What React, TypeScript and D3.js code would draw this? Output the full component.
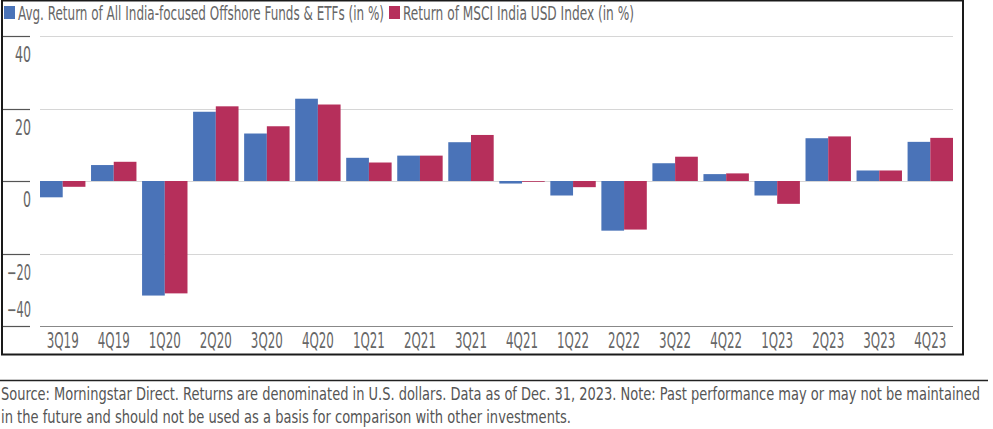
import React from "react";
import * as d3 from "d3";

const categories = ["3Q19","4Q19","1Q20","2Q20","3Q20","4Q20","1Q21","2Q21","3Q21","4Q21","1Q22","2Q22","3Q22","4Q22","1Q23","2Q23","3Q23","4Q23"];
const fundReturns = [-4.5, 4.4, -31.6, 19.1, 13.1, 22.7, 6.4, 7.0, 10.7, -0.7, -4.0, -13.7, 4.9, 1.9, -4.0, 11.8, 2.9, 10.8];
const msciReturns = [-1.6, 5.3, -31.0, 20.6, 15.1, 21.1, 5.1, 7.0, 12.7, -0.2, -1.7, -13.4, 6.7, 2.1, -6.3, 12.3, 2.9, 11.9];
const yTicks = [40, 20, 0, -20, -40];
const seriesNames = ["Avg. Return of All India-focused Offshore Funds & ETFs (in %)", "Return of MSCI India USD Index (in %)"];
const seriesColors = ["#4a73b8", "#b62f5b"];
const sourceLines = [
  "Source: Morningstar Direct. Returns are denominated in U.S. dollars. Data as of Dec. 31, 2023. Note: Past performance may or may not be maintained",
  "in the future and should not be used as a basis for comparison with other investments.",
];

const FONT = "'Liberation Sans Narrow', 'DejaVu Sans Condensed', 'Roboto', sans-serif";

export default function App() {
  const W = 993, H = 429;
  const y = d3.scaleLinear().domain([-40, 40]).range([326, 36]);
  const x0 = d3.scaleBand<string>().domain(categories).range([40, 953]).paddingInner(0.11).paddingOuter(0);
  const x1 = d3.scaleBand<string>().domain(["f", "m"]).range([0, x0.bandwidth()]);
  const series = [fundReturns, msciReturns];
  const keys = ["f", "m"];

  return (
    <div style={{ position: "absolute", left: 0, top: 0 }}>
      <svg width={W} height={H} style={{ display: "block" }} fontFamily={FONT}>
        <rect x={0} y={0} width={W} height={H} fill="#fff" />
        {/* frame */}
        <rect x={2} y={0.5} width={961} height={354} fill="none" stroke="#1a1a1a" strokeWidth={2} />
        {/* legend */}
        <rect x={4} y={6} width={11} height={13} fill={seriesColors[0]} />
        <text x={18} y={19.5} fontSize={19} fill="#666" textLength={366} lengthAdjust="spacingAndGlyphs">{seriesNames[0]}</text>
        <rect x={389} y={6} width={11} height={13} fill={seriesColors[1]} />
        <text x={403} y={19.5} fontSize={19} fill="#666" textLength={231} lengthAdjust="spacingAndGlyphs">{seriesNames[1]}</text>
        {/* grid + ticks */}
        {yTicks.map((t, i) => {
          const yy = Math.round(y(t)) + 0.5;
          const last = i === yTicks.length - 1;
          return (
            <g key={t}>
              <line x1={3} x2={30} y1={yy} y2={yy} stroke="#555" strokeWidth={1.2} />
              <line x1={40} x2={953} y1={yy} y2={yy} stroke={last ? "#888" : "#d6d6d6"} strokeWidth={1.2} />
              <text x={31} y={last ? y(t) - 16 : y(t) + 19} dy="0.35em" textAnchor="end" fontSize={21} fill="#666"
                textLength={t < 0 ? 24 : t === 0 ? 8 : 16} lengthAdjust="spacingAndGlyphs">
                {t < 0 ? "\u2212" + Math.abs(t) : String(t)}
              </text>
            </g>
          );
        })}
        {/* bars */}
        {categories.map((c, i) => (
          <g key={c} transform={`translate(${x0(c)},0)`}>
            {series.map((s, j) => {
              const v = s[i];
              const y0 = y(0), yv = y(v);
              return (
                <rect key={j} x={x1(keys[j])} y={Math.min(y0, yv)} width={x1.bandwidth()} height={Math.max(Math.abs(yv - y0), 0.8)} fill={seriesColors[j]} />
              );
            })}
            <text x={x0.bandwidth() / 2} y={348} textAnchor="middle" fontSize={22} fill="#666" textLength={32} lengthAdjust="spacingAndGlyphs">{c}</text>
          </g>
        ))}
        {/* source */}
        <line x1={0} x2={988} y1={380.5} y2={380.5} stroke="#222" strokeWidth={1.3} />
        <text x={1} y={400} fontSize={18} fill="#555" textLength={979} lengthAdjust="spacingAndGlyphs">{sourceLines[0]}</text>
        <text x={1} y={423} fontSize={18} fill="#555" textLength={570} lengthAdjust="spacingAndGlyphs">{sourceLines[1]}</text>
      </svg>
    </div>
  );
}
